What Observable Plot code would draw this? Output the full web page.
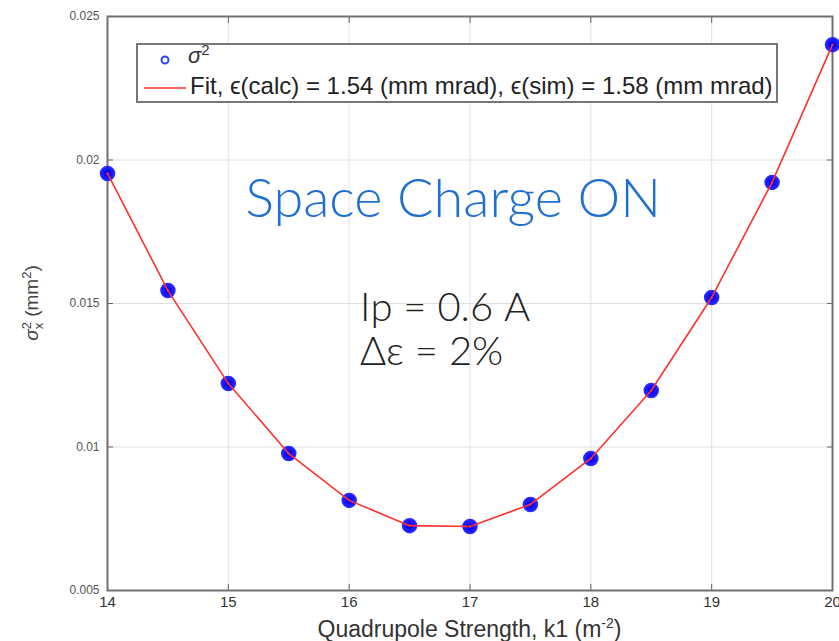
<!DOCTYPE html>
<html>
<head>
<meta charset="utf-8">
<script src="https://cdn.jsdelivr.net/npm/d3@7"></script>
<script src="https://cdn.jsdelivr.net/npm/@observablehq/plot@0.6"></script>
<style>
  html, body { margin: 0; padding: 0; background: #fff; }
  #wrap { position: relative; width: 839px; height: 641px; overflow: hidden; }
  #wrap svg { position: absolute; left: 0; top: 0; }
  .ov { position: absolute; white-space: nowrap; }
  #legend { left: 136px; top: 43px; width: 638px; height: 56px; border: 2px solid #777; background: #fff; font-family: "Liberation Sans", Arial, sans-serif; color: #222; }
</style>
</head>
<body>
<div id="wrap"></div>
<script>
// data
const k1 = [14, 14.5, 15, 15.5, 16, 16.5, 17, 17.5, 18, 18.5, 19, 19.5, 20];
const sigma2 = [0.01953, 0.01545, 0.01221, 0.00977, 0.00814, 0.00726, 0.00723, 0.00800, 0.00960, 0.01197, 0.01521, 0.01922, 0.02402];
const fitValues = [0.01953, 0.01545, 0.01221, 0.00977, 0.00814, 0.00726, 0.00723, 0.00800, 0.00960, 0.01197, 0.01521, 0.01922, 0.02402];
const xTicks = [14, 15, 16, 17, 18, 19, 20];
const yTicks = [0.005, 0.01, 0.015, 0.02, 0.025];
const yTickLabels = ["0.005", "0.01", "0.015", "0.02", "0.025"];
const legendLabels = ["σ", "Fit, ϵ(calc) = 1.54 (mm mrad), ϵ(sim) = 1.58 (mm mrad)"];
const titleText = "Space Charge ON";
const noteLines = ["Iр = 0.6 A", "Δε = 2%"];

const points = k1.map((k, i) => ({k, s: sigma2[i]}));
const fit = k1.map((k, i) => ({k, s: fitValues[i]}));

const noLabel = () => "";
const chart = Plot.plot({
  width: 839,
  height: 641,
  marginLeft: 107,
  marginRight: 7,
  marginTop: 16,
  marginBottom: 51,
  style: {fontFamily: "'Liberation Sans', Arial, sans-serif", background: "#fff"},
  x: {domain: [14, 20], ticks: xTicks},
  y: {domain: [0.005, 0.025], ticks: yTicks},
  marks: [
    Plot.gridX(xTicks, {stroke: "#e0e0e0", strokeOpacity: 1}),
    Plot.gridY(yTicks, {stroke: "#e0e0e0", strokeOpacity: 1}),
    Plot.axisX(xTicks, {anchor: "bottom", tickSize: -6, tickFormat: noLabel, stroke: "#666", label: null}),
    Plot.axisX(xTicks, {anchor: "top", tickSize: -6, tickFormat: noLabel, stroke: "#666", label: null}),
    Plot.axisY(yTicks, {anchor: "left", tickSize: -6, tickFormat: noLabel, stroke: "#666", label: null}),
    Plot.axisY(yTicks, {anchor: "right", tickSize: -6, tickFormat: noLabel, stroke: "#666", label: null}),
    Plot.axisX(xTicks, {anchor: "bottom", tickSize: 0, tickPadding: 6, fontSize: 15, fill: "#333",
      tickFormat: d => String(d),
      fontFamily: "'Liberation Sans Narrow', 'Liberation Sans', sans-serif",
      label: null}),
    Plot.axisY(yTicks, {anchor: "left", tickSize: 0, tickPadding: 8, fontSize: 12, fill: "#555",
      tickFormat: (d) => yTickLabels[yTicks.indexOf(d)], label: null}),
    Plot.frame({stroke: "#707070", strokeWidth: 2}),
    Plot.dot(points, {x: "k", y: "s", r: 7, fill: "#1a1aff", stroke: "#2a2aff", strokeWidth: 1.5}),
    Plot.dot(points, {x: "k", y: "s", r: 3.5, symbol: "asterisk", stroke: "#0000ee", strokeWidth: 2}),
    Plot.line(fit, {x: "k", y: "s", stroke: "#ff3030", strokeWidth: 1.6}),
    Plot.dot(points, {x: "k", y: "s", r: 1.2, fill: "#ff3030"}),
    Plot.text([titleText], {x: 16.86, y: 0.01862, text: d => d, fontSize: 54, fill: "#1f6fd1",
      fontFamily: "Lato, 'Open Sans', sans-serif", fontWeight: 300, textAnchor: "middle", lineAnchor: "middle"}),
    Plot.text([noteLines[0]], {x: 16.09, y: 0.01483, text: d => d, fontSize: 40, fill: "#222",
      fontFamily: "Lato, 'Open Sans', sans-serif", fontWeight: 300, textAnchor: "start", lineAnchor: "middle"}),
    Plot.text([noteLines[1]], {x: 16.09, y: 0.01329, text: d => d, fontSize: 40, fill: "#222",
      fontFamily: "Lato, 'Open Sans', sans-serif", fontWeight: 300, textAnchor: "start", lineAnchor: "middle"})
  ]
});

const wrap = document.getElementById("wrap");
wrap.appendChild(chart);

// axis titles
const xl = document.createElement("div");
xl.className = "ov";
xl.style.cssText = "left:0;width:839px;top:610px;text-align:center;padding-left:100px;box-sizing:border-box;font-family:'Liberation Sans Narrow','Liberation Sans',sans-serif;font-size:23px;line-height:26px;color:#333;";
xl.innerHTML = "Quadrupole Strength, k1 (m<sup style='font-size:14px'>-2</sup>)";
wrap.appendChild(xl);

const yl = document.createElement("div");
yl.className = "ov";
yl.style.cssText = "left:32px;top:303px;transform:translate(-50%,-50%) rotate(-90deg);font-family:'Liberation Sans',sans-serif;font-size:19px;color:#444;";
yl.innerHTML = "<i>σ</i><span style='display:inline-flex;flex-direction:column;font-size:13px;line-height:12px;vertical-align:middle'><span>2</span><span>x</span></span> (mm<sup style='font-size:13px'>2</sup>)";
wrap.appendChild(yl);

// legend
const lg = document.createElement("div");
lg.className = "ov";
lg.id = "legend";
lg.innerHTML =
  "<svg width='60' height='56' style='position:absolute;left:0;top:0'>" +
  "<circle cx='27' cy='15' r='3.5' fill='none' stroke='#3344ff' stroke-width='2'/>" +
  "<line x1='6' y1='43' x2='48' y2='43' stroke='#ff3030' stroke-width='1.6'/></svg>" +
  "<div style='position:absolute;left:50px;top:-4px;font-size:22px;color:#333'><i>" + legendLabels[0] + "</i><sup style='font-size:15px'>2</sup></div>" +
  "<div style='position:absolute;left:52px;top:27px;font-size:24px;letter-spacing:0px'>" + legendLabels[1] + "</div>";
wrap.appendChild(lg);
</script>
</body>
</html>
